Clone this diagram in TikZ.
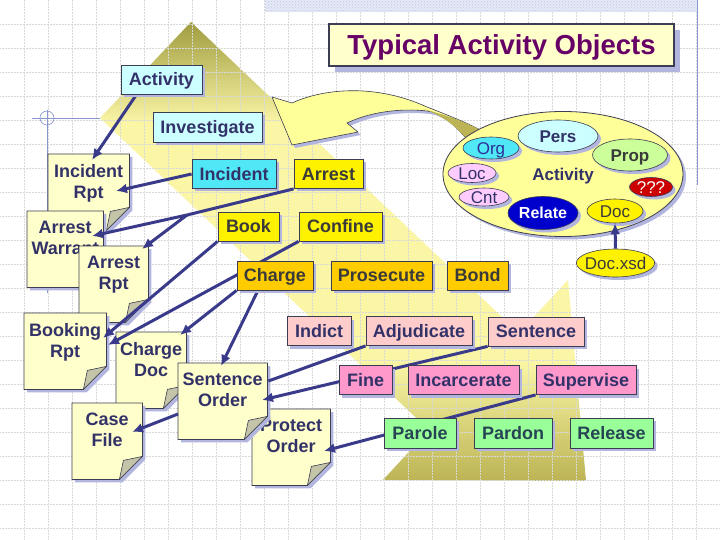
\documentclass[tikz,border=0pt]{standalone}
\usepackage{fontspec}
\setmainfont{Liberation Sans}
\usetikzlibrary{arrows.meta, shapes.geometric, shadows, patterns, calc}

\definecolor{linkblue}{RGB}{58,58,138}
\definecolor{boxline}{RGB}{60,60,82}
\definecolor{shadowblue}{RGB}{178,182,222}
\definecolor{navytext}{RGB}{50,50,105}
\definecolor{orgtext}{RGB}{45,45,150}
\definecolor{graytext}{RGB}{58,58,58}
\definecolor{greentext}{RGB}{38,68,84}
\definecolor{titlepurple}{RGB}{102,0,102}
\definecolor{paleyellow}{RGB}{255,255,204}
\definecolor{lightcyan}{RGB}{204,255,255}
\definecolor{brightcyan}{RGB}{80,232,246}
\definecolor{chargegold}{RGB}{255,204,0}
\definecolor{lightpink}{RGB}{255,204,204}
\definecolor{hotpink}{RGB}{255,153,204}
\definecolor{lightgreen}{RGB}{153,255,153}
\definecolor{propgreen}{RGB}{204,255,153}
\definecolor{lavender}{RGB}{255,204,255}
\definecolor{alarmred}{RGB}{204,0,0}
\definecolor{relateblue}{RGB}{0,0,204}
\definecolor{ovalyellow}{RGB}{255,255,153}
\definecolor{flapgray}{RGB}{196,196,168}
\definecolor{olivetop}{RGB}{160,156,64}
\definecolor{olivebottom}{RGB}{188,180,84}
\definecolor{bandmid}{RGB}{250,246,166}
\definecolor{markblue}{RGB}{136,150,208}
\definecolor{stripblue}{RGB}{190,200,232}

\pgfdeclareverticalshading{bandshade}{100bp}{color(0bp)=(olivebottom); color(25bp)=(olivebottom); color(38bp)=(bandmid); color(64bp)=(bandmid); color(75bp)=(olivetop); color(100bp)=(olivetop)}

\pgfdeclarelayer{back}
\pgfdeclarelayer{docs}
\pgfdeclarelayer{links}
\pgfsetlayers{back,docs,links,main}

\tikzset{
  boxshadow/.style={drop shadow={shadow xshift=3pt, shadow yshift=-3pt, fill=shadowblue, opacity=1}},
  box/.style={draw=boxline, line width=0.8pt, minimum height=29pt, inner sep=0pt,
    text height=12.9pt, text depth=0pt, font=\fontsize{18}{21}\selectfont\bfseries, boxshadow},
  oval/.style={ellipse, draw=boxline, line width=0.6pt, inner sep=-3pt,
    text height=12.2pt, text depth=0pt, font=\fontsize{17}{20}\selectfont, boxshadow},
  boldoval/.style={oval, font=\fontsize{17}{20}\selectfont\bfseries},
  titlebox/.style={draw=boxline, line width=1.4pt, fill=paleyellow, minimum width=345pt,
    minimum height=42pt, text height=19.7pt, text depth=0pt, text=titlepurple,
    font=\fontsize{27.5}{33}\selectfont\bfseries,
    drop shadow={shadow xshift=6pt, shadow yshift=-6pt, fill=shadowblue, opacity=1}},
  paper/.style={minimum height=76pt, inner sep=0pt},
  notetext/.style={anchor=north, align=center, inner sep=0pt, text=navytext,
    font=\fontsize{18}{21}\selectfont\bfseries},
  linkarrow/.style={draw=linkblue, line width=3pt, -{Latex[length=11pt,width=10pt]}},
  linkline/.style={draw=linkblue, line width=3pt},
  gridline/.style={gray!30, densely dotted, line width=0.5pt},
  markline/.style={markblue, line width=0.6pt}
}

\begin{document}
\begin{tikzpicture}[x=1pt, y=-1pt]
\useasboundingbox (0,0) rectangle (720,540);

\begin{pgfonlayer}{back}
  \fill[white] (0,0) rectangle (720,540);
  \shade[shading=bandshade] (100,118) -- (191,22) -- (519,333) -- (568,280) -- (586,481)
    -- (383,480) -- (429,430) -- cycle;
  \foreach \gx in {24,48,...,696} \draw[gridline] (\gx,0) -- (\gx,540);
  \foreach \gy in {24,48,...,528} \draw[gridline] (0,\gy) -- (720,\gy);
  \fill[stripblue!40] (265,0) rectangle (697,12);
  \fill[pattern=crosshatch dots, pattern color=stripblue] (265,0) rectangle (697,12);
  \draw[markline] (697,0) -- (697,185);
  \draw[markline] (32,118) -- (100,118) (47,110) -- (47,293);
  \draw[markline] (47,118) circle (7);
  \filldraw[fill=ovalyellow, draw=boxline, line width=0.6pt, boxshadow]
    (272,97) -- (292,103) .. controls (320,90) and (372,82) .. (427,107)
    .. controls (450,116) and (470,124) .. (486,133) -- (470,143)
    .. controls (458,128) and (443,113) .. (427,111)
    .. controls (400,108) and (370,112) .. (347,123) -- (358,132) -- (292,145) -- cycle;
  \fill[olivebottom] (423,109) .. controls (450,116) and (470,124) .. (486,133) -- (470,143)
    .. controls (460,130) and (445,116) .. cycle;
\end{pgfonlayer}

\begin{pgfonlayer}{docs}
  \foreach \nm/\xa/\ya/\pw/\txt in {irpt/48/154/81/{Incident\\Rpt}, awar/27/211/76/{Arrest\\Warrant},
      arpt/79/246/69/{Arrest\\Rpt}, brpt/24/313/82/{Booking\\Rpt}, cdoc/116/332/70/{Charge\\Doc},
      cfile/72/403/70/{Case\\File}, pord/252/409/78/{Protect\\Order}, sord/178/363/89/{Sentence\\Order}}
  {
    \node[paper, minimum width=\pw pt, anchor=north west] (\nm) at (\xa,\ya) {};
    \fill[shadowblue] ($(\nm.north west)+(3,3)$) -- ($(\nm.north east)+(3,3)$)
      -- ($(\nm.south east)+(3,-20)$) -- ($(\nm.south east)+(-20,3)$) -- ($(\nm.south west)+(3,3)$) -- cycle;
    \filldraw[fill=paleyellow, draw=boxline, line width=0.8pt] (\nm.north west) -- (\nm.north east)
      -- ($(\nm.south east)+(0,-23)$) -- ($(\nm.south east)+(-23,0)$) -- (\nm.south west) -- cycle;
    \filldraw[fill=flapgray, draw=boxline, line width=0.6pt] ($(\nm.south east)+(-23,0)$)
      -- ($(\nm.south east)+(0,-23)$) -- ($(\nm.south east)+(-19,-19)$) -- cycle;
    \node[notetext] (\nm-t) at ($(\nm.north)+(0,10)$) {\txt};
  }
\end{pgfonlayer}

\node[titlebox] (title) at (501.5,45) {Typical Activity Objects};

\node[box, fill=lightcyan, text=navytext, minimum width=81pt] (act) at (161.5,79.5) {Activity};
\node[box, fill=lightcyan, text=navytext, minimum width=109pt, minimum height=30pt] (inv) at (207.5,127) {Investigate};
\node[box, fill=brightcyan, text=navytext, minimum width=84pt] (inc) at (234,174) {Incident};
\node[box, fill=yellow, text=graytext, minimum width=69pt] (arr) at (328.5,174) {Arrest};
\node[box, fill=yellow, text=graytext, minimum width=61pt] (book) at (248.5,226.5) {Book};
\node[box, fill=yellow, text=graytext, minimum width=83pt] (conf) at (340.5,226.5) {Confine};
\node[box, fill=chargegold, text=graytext, minimum width=76pt] (chg) at (275,275.5) {Charge};
\node[box, fill=chargegold, text=graytext, minimum width=101pt] (pros) at (381.5,275.5) {Prosecute};
\node[box, fill=chargegold, text=graytext, minimum width=61pt] (bond) at (477.5,275.5) {Bond};
\node[box, fill=lightpink, text=navytext, minimum width=64pt] (ind) at (319,331) {Indict};
\node[box, fill=lightpink, text=navytext, minimum width=106pt] (adj) at (419,331) {Adjudicate};
\node[box, fill=lightpink, text=navytext, minimum width=96pt] (sent) at (536,331.5) {Sentence};
\node[box, fill=hotpink, text=navytext, minimum width=53pt] (fine) at (365.5,380) {Fine};
\node[box, fill=hotpink, text=navytext, minimum width=111pt] (incar) at (463.5,380) {Incarcerate};
\node[box, fill=hotpink, text=navytext, minimum width=100pt] (sup) at (586,380) {Supervise};
\node[box, fill=lightgreen, text=greentext, minimum width=72pt, minimum height=30pt] (par) at (420,433) {Parole};
\node[box, fill=lightgreen, text=greentext, minimum width=78pt, minimum height=30pt] (pard) at (513,433) {Pardon};
\node[box, fill=lightgreen, text=greentext, minimum width=83pt, minimum height=30pt] (rel) at (611.5,433) {Release};

\node[boldoval, fill=ovalyellow, line width=0.8pt, minimum width=240pt, minimum height=125pt, text=navytext] (actv) at (563,174) {Activity};
\node[boldoval, fill=lightcyan, minimum width=80pt, minimum height=32pt, text=navytext] (pers) at (558,136) {Pers};
\node[oval, fill=brightcyan, minimum width=56pt, minimum height=22pt, text=orgtext] (org) at (491,148) {Org};
\node[boldoval, fill=propgreen, minimum width=75pt, minimum height=32pt, text=graytext] (prop) at (630,155) {Prop};
\node[oval, fill=lavender, minimum width=48pt, minimum height=19pt, text=navytext] (loc) at (472,173) {Loc};
\node[oval, fill=lavender, minimum width=50pt, minimum height=18pt, text=navytext] (cnt) at (484,197) {Cnt};
\node[oval, fill=alarmred, minimum width=43pt, minimum height=19pt, text=white] (qqq) at (651,187) {???};
\node[boldoval, fill=relateblue, minimum width=70pt, minimum height=33pt, text=white,
  text height=11.5pt, font=\fontsize{16}{19}\selectfont\bfseries] (relt) at (543,213) {Relate};
\node[oval, fill=yellow, minimum width=56pt, minimum height=24pt, text=graytext] (doc) at (615,211) {Doc};
\node[oval, fill=yellow, minimum width=78pt, minimum height=28pt, text=graytext] (docx) at (615.5,263) {Doc.xsd};
\draw[linkarrow] (docx.north) -- (doc.south);

\begin{pgfonlayer}{links}
  \draw[linkarrow] ($(act.south west)+(16,0)$) -- ($(irpt.north west)+(44,6)$);
  \draw[linkarrow] (inc.west) -- ($(irpt.north west)+(68,37)$);
  \coordinate (split) at (187,215);
  \draw[linkline] (arr.south west) -- (split);
  \draw[linkarrow] (split) -- ($(awar.north west)+(65,25)$);
  \draw[linkarrow] (split) -- ($(arpt.north west)+(63,3)$);
  \draw[linkarrow] (book.south west) -- ($(brpt.north west)+(79,25)$);
  \draw[linkarrow] (conf.south west) -- ($(brpt.north west)+(84,32)$);
  \draw[linkarrow] (chg.south west) -- ($(cdoc.north west)+(64,3)$);
  \draw[linkarrow] ($(chg.south)+(-17,0)$) -- ($(sord.north west)+(43,3)$);
  \draw[linkline] (adj.south west) -- ($(sord.north east)+(1,18)$);
  \draw[linkarrow] (sent.south west) -- ($(sord.north west)+(84,37)$);
  \draw[linkarrow] (sup.south west) -- ($(pord.north west)+(72,42)$);
  \draw[linkarrow] ($(sord.north west)+(0,51)$) -- ($(cfile.north west)+(60,29)$);
\end{pgfonlayer}
\end{tikzpicture}
\end{document}
